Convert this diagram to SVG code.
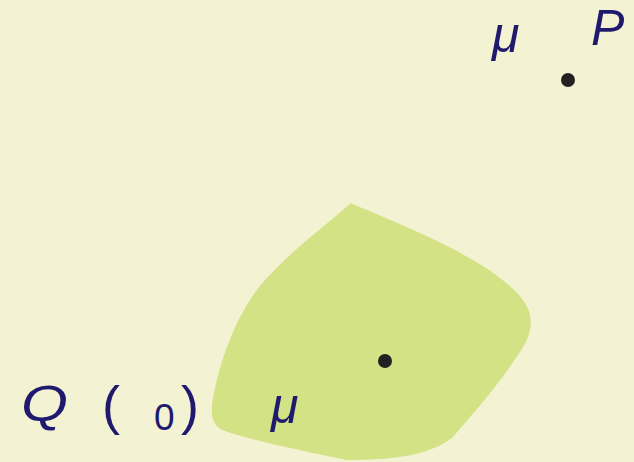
<svg xmlns="http://www.w3.org/2000/svg" width="634" height="462" viewBox="0 0 634 462">
<style>
.t{font-family:"Liberation Sans","DejaVu Sans",sans-serif;font-style:italic;fill:#1f1a6e;font-size:50px}
.u{font-family:"Liberation Sans","DejaVu Sans",sans-serif;fill:#1f1a6e}
.dot{fill:#222}
</style>
<rect width="634" height="462" fill="#f3f3d4"/>
<g id="region">
<path d="M350.7,203.3 C420,232 480,258 512,288 C532,306 535,322 526,342 C505,378 476,410 453,437 C430,456 390,460 346.7,460 C300,450 250,440 222,430 C210,424 211,410 213,398 C220,360 235,320 256.7,290 C280,260 320,230 350.7,203.3 Z" fill="#d3e285"/>
</g>
<g id="point-a"><circle class="dot" cx="385" cy="361" r="7"/></g>
<g id="point-b"><circle class="dot" cx="568" cy="80" r="7"/></g>
<g id="labels">
<text class="t" x="492" y="52" font-size="58">μ</text>
<text class="t" x="591" y="45">P</text>
<text class="t" x="21" y="421" font-size="57" textLength="47" lengthAdjust="spacingAndGlyphs">Q</text>
<text class="u" x="102" y="424" font-size="54">(</text>
<text class="u" x="154" y="430" font-size="37">0</text>
<text class="u" x="181" y="424" font-size="54">)</text>
<text class="t" x="271" y="423" font-size="58">μ</text>
</g>
</svg>
